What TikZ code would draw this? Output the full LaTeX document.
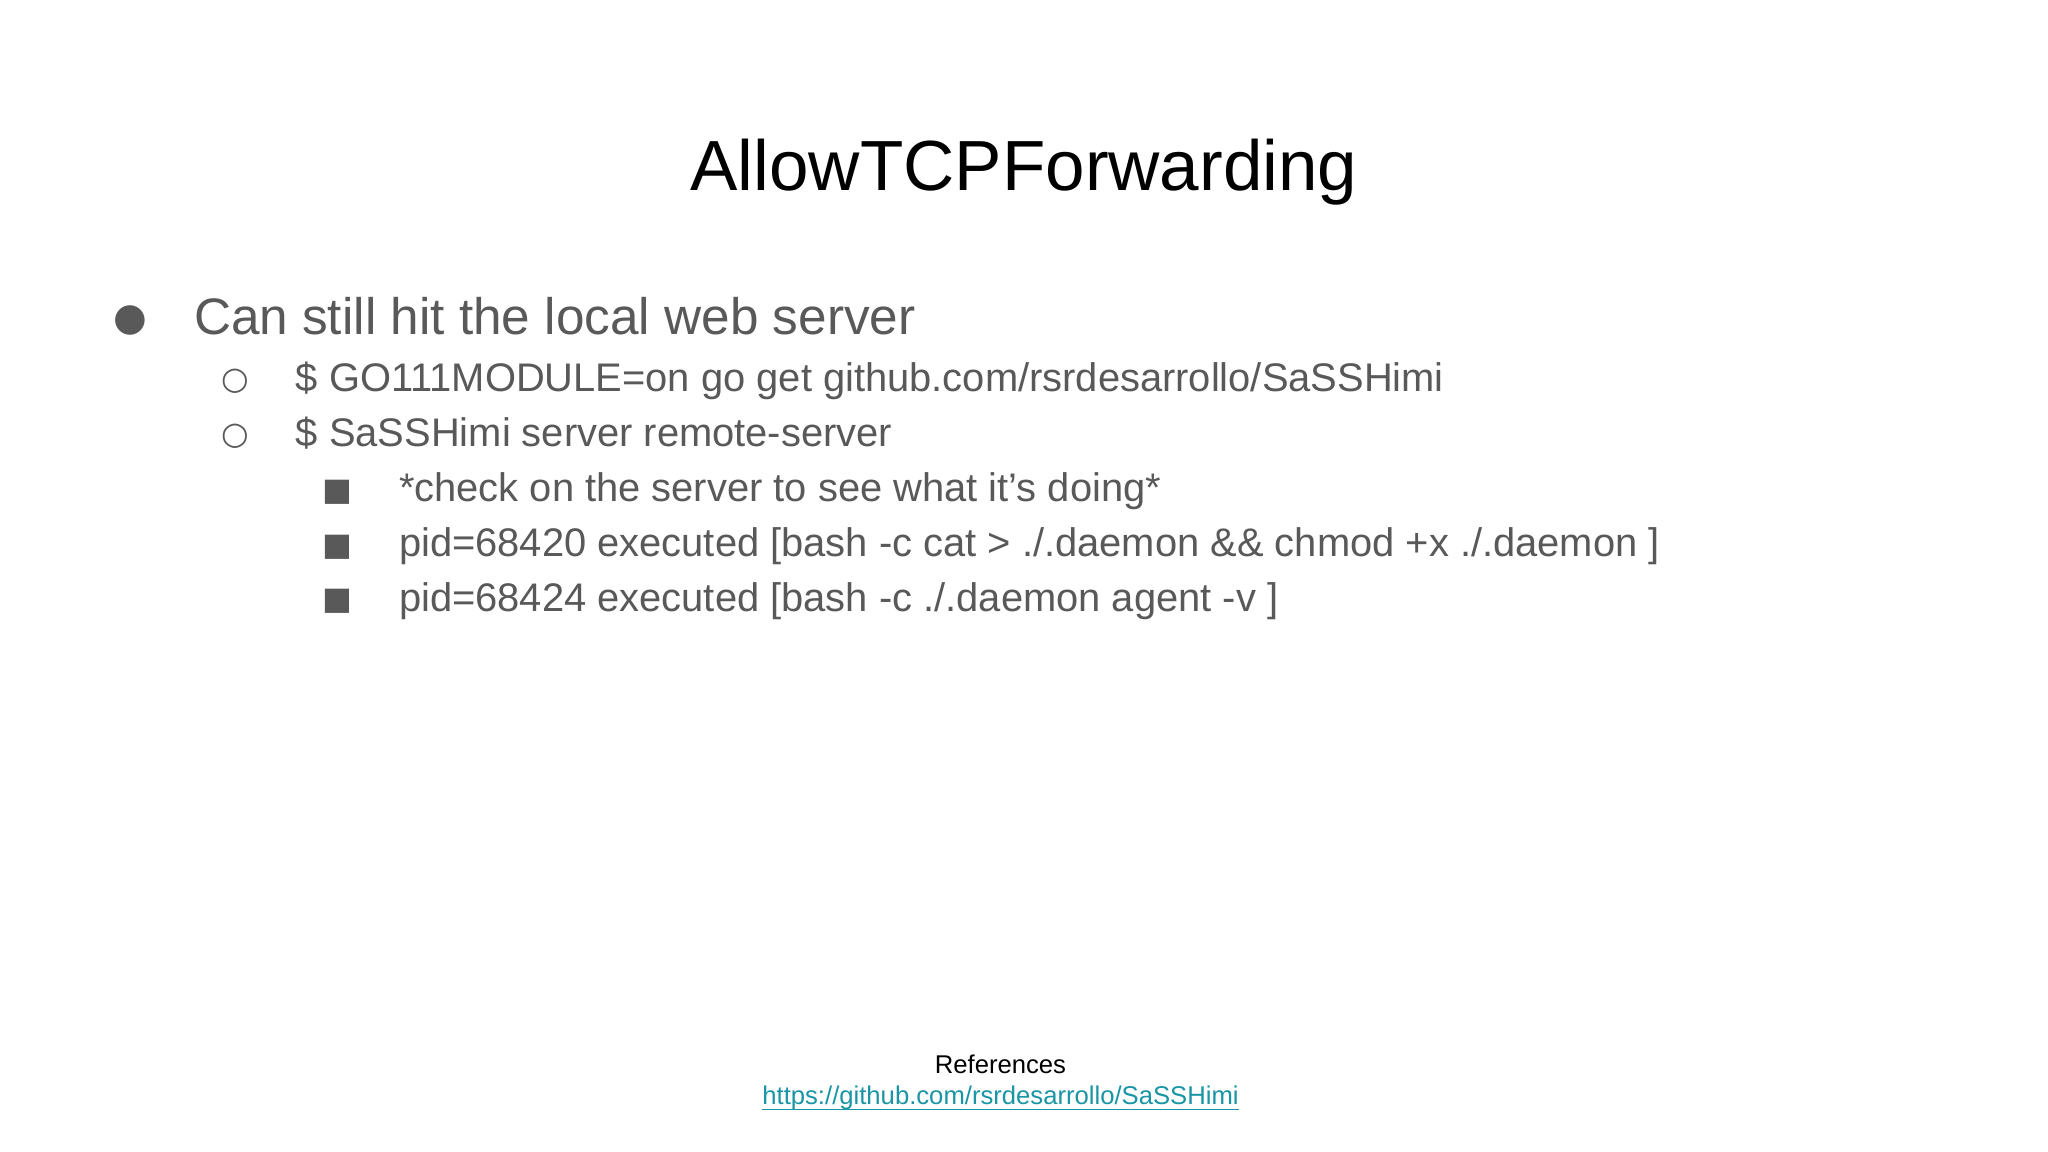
\documentclass[tikz,border=0pt]{standalone}
\usepackage{fontspec}
\setmainfont{Liberation Sans}
\newfontfamily\symfont{DejaVu Sans}
\definecolor{txt}{HTML}{595959}
\definecolor{lnk}{HTML}{1A95A5}
\begin{document}
\begin{tikzpicture}[x=0.013061cm,y=-0.013061cm,
  t/.style={anchor=base west,inner sep=0pt,text=txt},
  mk/.style={anchor=base,inner sep=0pt,text=txt}]
\useasboundingbox[fill=white] (0,0) rectangle (1568,882);
\node[anchor=base,inner sep=0pt,font=\fontsize{20.2}{24}\selectfont] (title) at (784,146) {AllowTCPForwarding};
\node[mk,font=\fontsize{11}{13}\selectfont\symfont] (m1) at (100,253) {●};
\node[t,font=\fontsize{14.6}{18}\selectfont] (b1) at (148,256) {Can still hit the local web server};
\begin{scope}[font=\fontsize{11.35}{14}\selectfont]
\node[mk,font=\fontsize{9}{12}\selectfont\symfont] (m2) at (180,298) {○};
\node[t] (b2) at (226,300) {\$ GO111MODULE=on go get github.com/rsrdesarrollo/SaSSHimi};
\node[mk,font=\fontsize{9}{12}\selectfont\symfont] (m3) at (180,340) {○};
\node[t] (b3) at (226,342) {\$ SaSSHimi server remote-server};
\node[mk,font=\fontsize{9}{12}\selectfont\symfont] (m4) at (258,383) {■};
\node[t] (b4) at (305,384) {*check on the server to see what it’s doing*};
\node[mk,font=\fontsize{9}{12}\selectfont\symfont] (m5) at (258,425) {■};
\node[t] (b5) at (305,426) {pid=68420 executed [bash -c cat > ./.daemon \&\& chmod +x ./.daemon ]};
\node[mk,font=\fontsize{9}{12}\selectfont\symfont] (m6) at (258,467) {■};
\node[t] (b6) at (305,468) {pid=68424 executed [bash -c ./.daemon agent -v ]};
\end{scope}
\node[anchor=base,inner sep=0pt,font=\fontsize{7.3}{9}\selectfont] (ref) at (766,822) {References};
\node[anchor=base,inner sep=0pt,text=lnk,font=\fontsize{7.3}{9}\selectfont] (link) at (766,846) {https://github.com/rsrdesarrollo/SaSSHimi};
\draw[lnk,line width=0.5pt] ([yshift=-1.3pt]link.base west) -- ([yshift=-1.3pt]link.base east);
\end{tikzpicture}
\end{document}
